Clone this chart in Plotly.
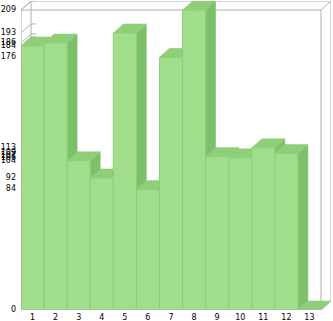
import plotly.graph_objects as go

# ---- data ----
categories = ["1", "2", "3", "4", "5", "6", "7", "8", "9", "10", "11", "12", "13"]
values = [184, 186, 104, 92, 193, 84, 176, 209, 107, 106, 113, 109, 0]

# ---- geometry (pixel-derived) ----
W, H = 333, 321
ML, MR, MT, MB = 21, 2, 1, 11
front_w = 300.0          # px width of front plane
front_h = 300.0          # px height of front plane
depth_px_x, depth_px_y = 10.0, 9.0
n = len(values)
vmax = max(values)
ux = front_w / n               # px per category
uy = front_h / vmax            # px per value unit
DX = depth_px_x / ux
DY = depth_px_y / uy
xr = [0, n + DX]
yr = [0, vmax + DY]

FRONT = "rgb(160,222,140)"
FRONT_LINE = "rgb(140,206,120)"
TOP = "rgb(143,207,122)"
SIDE = "rgb(125,192,106)"
GRID = "rgb(176,176,176)"

fig = go.Figure()

def line(xs, ys, color=GRID, width=1):
    fig.add_trace(go.Scatter(x=xs, y=ys, mode="lines", line=dict(color=color, width=width),
                             hoverinfo="skip", showlegend=False))

# back box lines (under bars)
line([DX, n + DX], [vmax + DY, vmax + DY])          # back top edge
line([0, n], [vmax, vmax])                          # front top edge
line([0, DX], [vmax, vmax + DY])                    # top-left diagonal
line([n, n + DX], [vmax, vmax + DY])                # top-right diagonal
line([DX, DX], [DY, vmax + DY])                     # back-left vertical
line([n + DX, n + DX], [DY, vmax + DY])             # back-right vertical
line([n, n], [0, vmax])                             # front-right vertical
line([n, n + DX], [0, DY])                          # bottom-right diagonal
# tick guides on left wall + stubs on back wall
for v in sorted(set(values)):
    line([0, DX, DX + 0.22], [v, v + DY, v + DY])

def poly(xs, ys, fill, lc, lw):
    fig.add_trace(go.Scatter(x=xs + [xs[0]], y=ys + [ys[0]], mode="lines", fill="toself",
                             fillcolor=fill, line=dict(color=lc, width=lw),
                             hoverinfo="skip", showlegend=False))

for i, v in enumerate(values):
    x0, x1 = i, i + 1
    # side face
    if v > 0:
        poly([x1, x1 + DX, x1 + DX, x1], [0, DY, v + DY, v], SIDE, SIDE, 0.5)
    # top face
    poly([x0, x1, x1 + DX, x0 + DX], [v, v, v + DY, v + DY], TOP, TOP, 0.5)
    # front face
    if v > 0:
        poly([x0, x1, x1, x0], [0, 0, v, v], FRONT, FRONT_LINE, 1)

# front axis lines over bars
line([0, 0], [0, vmax])
line([0, n], [0, 0])

ticks_y = sorted(set(values))
fig.update_layout(
    width=W, height=H,
    margin=dict(l=ML, r=MR, t=MT, b=MB, pad=0, autoexpand=False),
    paper_bgcolor="white", plot_bgcolor="white",
    font=dict(family="DejaVu Sans", size=8, color="black"),
    showlegend=False,
    xaxis=dict(range=xr, showgrid=False, zeroline=False, showline=False,
               tickvals=[i + 0.5 for i in range(n)], ticktext=categories,
               ticks="", ticklabelstandoff=1, automargin=False, fixedrange=True),
    yaxis=dict(range=yr, showgrid=False, zeroline=False, showline=False,
               tickvals=ticks_y, ticktext=[str(t) for t in ticks_y],
               ticks="", ticklabelstandoff=4, ticklabelshift=-1,
               automargin=False, fixedrange=True),
)

fig.write_html("out.html")
